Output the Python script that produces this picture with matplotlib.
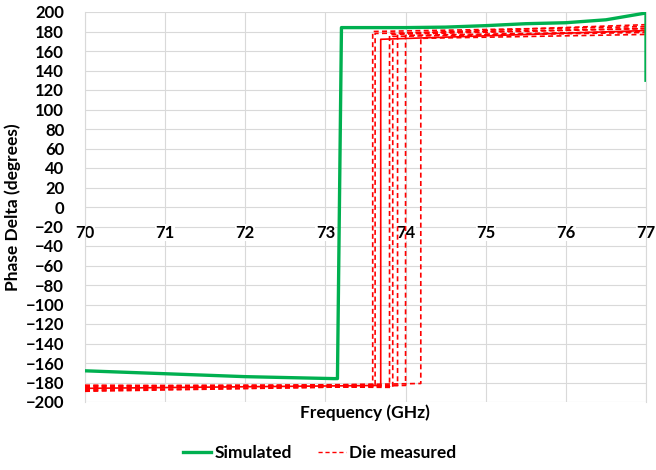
import numpy as np
import matplotlib.pyplot as plt
from matplotlib.lines import Line2D

plt.rcParams['font.family'] = ['Lato', 'DejaVu Sans']

# simulated phase delta (GHz, degrees)
sim_freq = [70.0, 71.0, 72.0, 73.1, 73.15, 73.2, 74.0, 74.5, 75.0, 75.5, 76.0, 76.5, 77.0, 77.0]
sim_phase = [-168, -171, -174, -176, -176, 184, 184, 184.5, 186, 188, 189, 192, 199, 130]

# measured dies: step frequency, low level (start, end), high level (start, end)
die_step = [73.59, 73.62, 73.69, 73.80, 73.84, 73.90, 74.00, 74.19]
die_low_start = [-184, -189, -186, -188, -183, -183, -185, -187]
die_low_end = [-182, -184, -183, -184, -185, -183, -183, -181]
die_high_start = [180, 178, 172, 177, 175, 178, 176, 173]
die_high_end = [185, 183, 181, 183, 179, 187, 180, 177]
die_style = ['--', '--', '-', '--', '--', '--', '--', '--']

freq_ticks = [70, 71, 72, 73, 74, 75, 76, 77]

fig = plt.figure(figsize=(6.56, 4.70), dpi=100)
ax = fig.add_axes([85 / 656, 1 - 402 / 470, 561 / 656, 390 / 470])

for f, l0, l1, h0, h1, ls in zip(die_step, die_low_start, die_low_end,
                                 die_high_start, die_high_end, die_style):
    ax.plot([70, f, f, 77], [l0, l1, h0, h1], color='#ff0000', lw=1.2, ls=ls,
            dashes=(3, 2) if ls == '--' else (None, None), zorder=3)

ax.plot(sim_freq, sim_phase, color='#00b050', lw=2.4, zorder=4)

ax.set_xlim(70, 77)
ax.set_ylim(-200, 200)
ax.set_yticks(np.arange(-200, 201, 20))
ax.set_xticks(freq_ticks)
ax.set_xticklabels([])
ax.grid(True, color='#d9d9d9', lw=0.8)
ax.set_axisbelow(True)

# x labels sit next to the 0 line, over the grid but under the data
for f in freq_ticks:
    ax.annotate(str(f), xy=(f, 0), xytext=(0, -18.5), textcoords='offset points',
                ha='center', va='center', fontsize=12, fontweight='bold',
                bbox=dict(facecolor='white', edgecolor='none', pad=0.3),
                zorder=1.5, annotation_clip=False)

for s in ['top', 'bottom']:
    ax.spines[s].set_visible(False)
for s in ['left', 'right']:
    ax.spines[s].set_color('#d9d9d9')
ax.tick_params(length=0, labelsize=12)
ax.tick_params(axis='y', pad=15)
for t in ax.get_yticklabels():
    t.set_fontweight('bold')

ax.set_ylabel('Phase Delta (degrees)', fontsize=12.5, fontweight='bold', labelpad=3)
fig.text(365 / 656, 1 - 413 / 470, 'Frequency (GHz)', fontsize=12.5, fontweight='bold',
         ha='center', va='center')

handles = [Line2D([], [], color='#00b050', lw=2.4),
           Line2D([], [], color='#ff0000', lw=1.0, ls='--', dashes=(3, 2))]
fig.legend(handles, ['Simulated', 'Die measured'], loc='center',
           bbox_to_anchor=(320 / 656, 1 - 453 / 470), ncol=2, frameon=False,
           prop={'size': 12.5, 'weight': 'bold'}, handlelength=1.6,
           handletextpad=0.2, columnspacing=1.5)

fig.savefig('out.png', dpi=100)
